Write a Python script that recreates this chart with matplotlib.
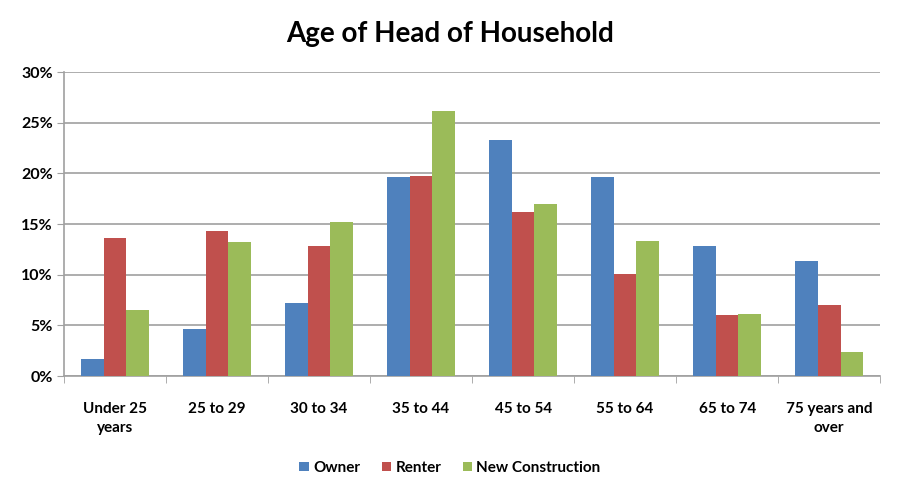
import matplotlib.pyplot as plt
import numpy as np
from matplotlib.ticker import FuncFormatter

plt.rcParams['font.family'] = ['Lato', 'DejaVu Sans']

categories = ['Under 25\nyears', '25 to 29', '30 to 34', '35 to 44',
              '45 to 54', '55 to 64', '65 to 74', '75 years and\nover']
owner = [1.65, 4.65, 7.2, 19.6, 23.3, 19.6, 12.85, 11.3]
renter = [13.6, 14.3, 12.85, 19.75, 16.2, 10.1, 6.0, 7.05]
new_construction = [6.5, 13.25, 15.2, 26.2, 17.0, 13.3, 6.15, 2.35]

series = [('Owner', owner, '#4F81BD'),
          ('Renter', renter, '#C0504D'),
          ('New Construction', new_construction, '#9BBB59')]

fig = plt.figure(figsize=(9, 5), dpi=100)
ax = fig.add_axes([0.071, 0.248, 0.907, 0.608])

x = np.arange(len(categories))
w = 0.222
for i, (name, vals, color) in enumerate(series):
    ax.bar(x + (i - 1) * w, vals, width=w, color=color, label=name, zorder=3)

ax.set_xlim(-0.5, len(categories) - 0.5)
ax.set_ylim(0, 30)
ax.set_yticks(range(0, 31, 5))
ax.yaxis.set_major_formatter(FuncFormatter(lambda v, p: f'{v:.0f}%'))
ax.yaxis.grid(True, color='#a0a0a0', linewidth=1.2, zorder=0)
ax.tick_params(axis='y', length=5, color='#a0a0a0', labelsize=11.5, pad=3)
for lbl in ax.get_yticklabels():
    lbl.set_fontweight('bold')

ax.set_xticks(x)
ax.set_xticklabels(categories, fontsize=11, fontweight='bold', linespacing=1.45)
ax.set_xticks(np.arange(-0.5, len(categories)), minor=True)
ax.tick_params(axis='x', which='major', length=0, pad=19)
ax.tick_params(axis='x', which='minor', length=5, color='#a0a0a0')

for s in ['top', 'right']:
    ax.spines[s].set_visible(False)
for s in ['left', 'bottom']:
    ax.spines[s].set_color('#a0a0a0')
    ax.spines[s].set_linewidth(1.2)

fig.suptitle('Age of Head of Household', x=0.5, y=0.958, fontsize=20, fontweight='bold')

fig.legend(loc='center', bbox_to_anchor=(0.5, 0.064), ncol=3, frameon=False,
           handlelength=0.6, handleheight=0.6, handletextpad=0.3, columnspacing=1.4,
           prop={'size': 11, 'weight': 'bold'})

fig.savefig('out.png', dpi=100, facecolor='white')
